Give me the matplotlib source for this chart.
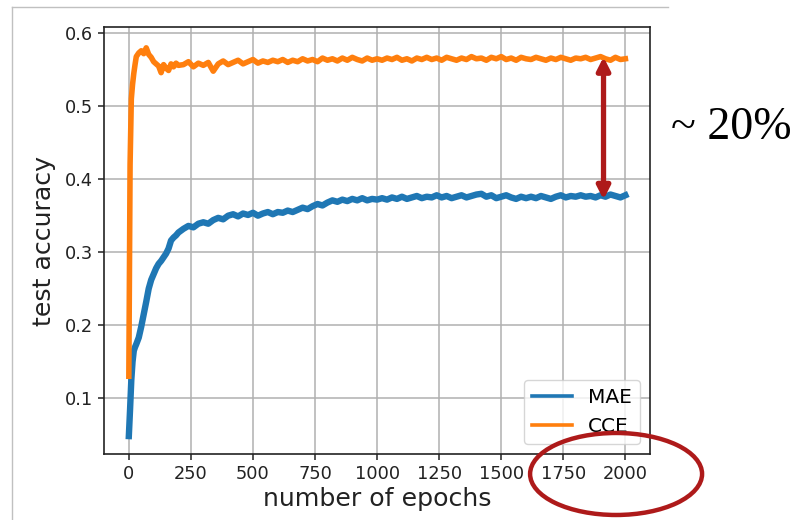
import numpy as np
import matplotlib.pyplot as plt
from matplotlib.patches import Ellipse
from matplotlib.lines import Line2D

epochs = [0, 5, 10, 15, 20, 25, 30, 40, 50, 60, 70, 80, 90, 100, 110, 120,
          130, 140, 150, 160, 170, 180, 190, 200] + list(range(220, 2001, 20))

mae = [0.048, 0.085, 0.125, 0.150, 0.165, 0.170, 0.174, 0.183, 0.198, 0.215,
       0.232, 0.250, 0.262, 0.270, 0.278, 0.284, 0.288, 0.293, 0.298, 0.305,
       0.316, 0.320, 0.323, 0.327,
       0.332, 0.336, 0.334, 0.339, 0.341, 0.339, 0.344, 0.347, 0.345, 0.350,
       0.352, 0.349, 0.353, 0.351, 0.354, 0.350, 0.353, 0.355, 0.352, 0.355,
       0.354, 0.357, 0.355, 0.358, 0.361, 0.359, 0.363, 0.366, 0.364, 0.368,
       0.371, 0.369, 0.372, 0.370, 0.373, 0.371, 0.374, 0.371, 0.373, 0.372,
       0.374, 0.372, 0.375, 0.373, 0.376, 0.373, 0.375, 0.377, 0.374, 0.376,
       0.375, 0.378, 0.375, 0.377, 0.374, 0.376, 0.378, 0.375, 0.377, 0.379,
       0.380, 0.376, 0.378, 0.374, 0.376, 0.378, 0.375, 0.373, 0.376, 0.374,
       0.376, 0.374, 0.377, 0.375, 0.373, 0.376, 0.378, 0.375, 0.377, 0.376,
       0.378, 0.376, 0.377, 0.375, 0.378, 0.376, 0.379, 0.377, 0.375, 0.378]

cce = [0.130, 0.420, 0.510, 0.530, 0.545, 0.557, 0.568, 0.573, 0.576, 0.572,
       0.580, 0.571, 0.567, 0.561, 0.558, 0.555, 0.546, 0.557, 0.552, 0.549,
       0.558, 0.554, 0.559, 0.556,
       0.557, 0.561, 0.554, 0.559, 0.556, 0.560, 0.548, 0.558, 0.562, 0.557,
       0.560, 0.563, 0.558, 0.561, 0.564, 0.559, 0.562, 0.560, 0.563, 0.561,
       0.564, 0.560, 0.563, 0.561, 0.565, 0.562, 0.564, 0.561, 0.566, 0.563,
       0.565, 0.562, 0.566, 0.563, 0.567, 0.564, 0.562, 0.566, 0.563, 0.565,
       0.563, 0.566, 0.564, 0.567, 0.563, 0.565, 0.562, 0.566, 0.564, 0.567,
       0.564, 0.566, 0.563, 0.567, 0.565, 0.563, 0.566, 0.564, 0.568, 0.565,
       0.566, 0.563, 0.567, 0.565, 0.568, 0.564, 0.566, 0.563, 0.567, 0.565,
       0.564, 0.567, 0.565, 0.563, 0.566, 0.564, 0.567, 0.565, 0.563, 0.566,
       0.565, 0.567, 0.564, 0.566, 0.568, 0.565, 0.563, 0.567, 0.564, 0.565]

labels = ['MAE', 'CCE']
gap_text = '~ 20%'
RED = '#AE1A1A'

fig = plt.figure(figsize=(7.97, 5.2), dpi=100)
ax = fig.add_axes([0.1305, 0.127, 0.685, 0.821])

ax.plot(epochs, mae, color='#1f77b4', lw=4.6, label=labels[0])
ax.plot(epochs, cce, color='#ff7f0e', lw=4.0, label=labels[1])

ax.set_xlim(-100, 2099)
ax.set_ylim(0.0235, 0.6085)
ax.set_xticks([0, 250, 500, 750, 1000, 1250, 1500, 1750, 2000])
ax.set_yticks([0.1, 0.2, 0.3, 0.4, 0.5, 0.6])
ax.grid(True, color='#b0b0b0', lw=1.1)
ax.tick_params(labelsize=12.8, length=4.5, width=1.1, colors='#222222')
for s in ax.spines.values():
    s.set_linewidth(1.2)
    s.set_color('#222222')
ax.set_xlabel('number of epochs', fontsize=18.2, color='#222222', labelpad=3)
ax.set_ylabel('test accuracy', fontsize=18.2, color='#222222', labelpad=6)

leg = ax.legend(loc='lower right', fontsize=14.5, borderaxespad=0.5)
for ln in leg.get_lines():
    ln.set_linewidth(2.6)

# red double arrow marking the gap
ax.annotate('', xy=(1912, 0.5675), xytext=(1912, 0.372),
            arrowprops=dict(arrowstyle='<|-|>,head_length=0.75,head_width=0.38',
                            color=RED, lw=3.8, shrinkA=0, shrinkB=0))

fig.text(0.918, 0.754, gap_text, fontsize=33, family='Liberation Serif',
         ha='center', va='center')

# ellipse around the last ticks
fig.add_artist(Ellipse((0.773, 0.0885), 0.2158, 0.1577, transform=fig.transFigure,
                       fill=False, ec=RED, lw=3.2))

# light slide frame (top and left edges)
fig.add_artist(Line2D([0.0147, 0.838], [0.986, 0.986], transform=fig.transFigure,
                      color='#c0c0c0', lw=1.0))
fig.add_artist(Line2D([0.0147, 0.0147], [0.0, 0.986], transform=fig.transFigure,
                      color='#c0c0c0', lw=1.0))

fig.savefig('out.png', dpi=100)
